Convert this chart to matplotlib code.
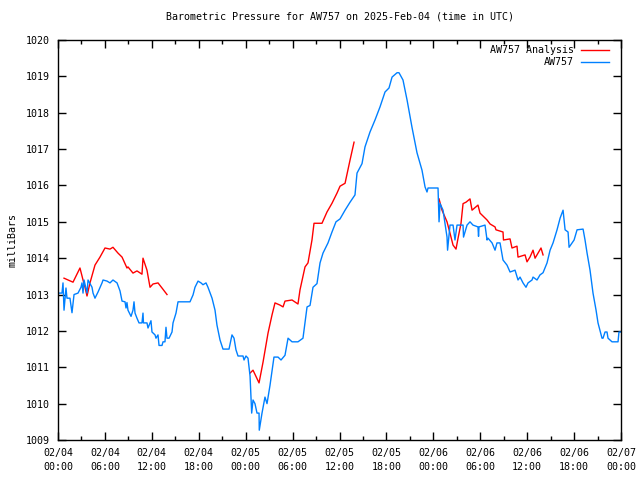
import matplotlib
matplotlib.use("Agg")
import matplotlib.pyplot as plt
import numpy as np

# ─── Data (hours since 2025-02-04 00:00 UTC, pressure in mbar) ───────────────
obs_hours = [
    0.0, 0.51, 0.58, 0.64, 0.77, 1.02, 1.15, 1.53, 1.79, 2.05, 2.56, 2.94, 3.07,
    3.20, 3.33, 3.71, 3.84, 4.09, 4.35, 4.48, 4.73, 5.12, 5.63, 5.76, 6.27, 6.65,
    7.03, 7.55, 7.93, 8.19, 8.57, 8.70, 8.82, 8.95, 9.34, 9.59, 9.72, 9.85, 10.10,
    10.36, 10.74, 10.87, 10.93, 11.38, 11.51, 11.89, 12.02, 12.41, 12.53, 12.79,
    12.92, 13.30, 13.43, 13.68, 13.81, 13.94, 14.20, 14.58, 14.71, 15.09, 15.35,
    16.88, 17.27, 17.52, 17.91, 18.29, 18.54, 18.93, 19.18, 19.70, 20.08, 20.33,
    20.72, 21.10, 21.87, 22.25, 22.51, 22.76, 23.02, 23.66, 23.79, 24.04, 24.30,
    24.56, 24.77, 24.94, 25.19, 25.45, 25.71, 25.74, 26.09, 26.47, 26.73, 27.11,
    27.62, 28.14, 28.52, 29.03, 29.42, 29.93, 30.69, 31.33, 31.85, 32.23, 32.61,
    33.12, 33.51, 33.89, 34.53, 35.04, 35.55, 36.07, 36.71, 37.35, 37.98, 38.24,
    38.88, 39.26, 39.90, 40.54, 41.18, 41.82, 42.33, 42.72, 43.36, 43.61, 44.12,
    44.64, 45.27, 45.91, 46.55, 46.94, 47.19, 47.32, 48.60, 48.73, 48.86, 49.24,
    49.75, 49.82, 50.13, 50.52, 50.77, 51.03, 51.80, 51.86, 52.31, 52.69, 53.07,
    53.71, 53.78, 53.84, 54.61, 54.87, 54.99, 55.51, 55.89, 56.14, 56.53, 56.91,
    57.42, 57.81, 58.45, 58.83, 59.09, 59.47, 59.85, 60.11, 60.62, 60.75, 61.26,
    61.64, 62.03, 62.54, 62.93, 63.31, 63.82, 64.21, 64.59, 64.85, 65.23, 65.36,
    65.74, 66.00, 66.38, 67.15, 67.40, 67.66, 68.04, 68.42, 68.81, 69.06, 69.57,
    69.70, 69.96, 70.21, 70.34, 70.85, 71.62, 71.74, 72.0,
]
obs_mbar = [
    1013.04, 1013.04, 1013.20, 1013.32, 1012.57, 1013.18, 1012.90, 1012.90,
    1012.50, 1013.00, 1013.04, 1013.20, 1013.32, 1013.04, 1013.40, 1013.04,
    1013.40, 1013.30, 1013.20, 1013.04, 1012.90, 1013.07, 1013.32, 1013.40,
    1013.37, 1013.32, 1013.40, 1013.32, 1013.10, 1012.82, 1012.80, 1012.63,
    1012.78, 1012.57, 1012.40, 1012.57, 1012.80, 1012.49, 1012.35, 1012.22,
    1012.22, 1012.49, 1012.22, 1012.22, 1012.08, 1012.28, 1011.97, 1011.89,
    1011.80, 1011.89, 1011.60, 1011.60, 1011.70, 1011.70, 1012.10, 1011.80,
    1011.80, 1011.97, 1012.22, 1012.49, 1012.80, 1012.80, 1012.99, 1013.20,
    1013.37, 1013.32, 1013.27, 1013.32, 1013.20, 1012.90, 1012.57, 1012.16,
    1011.75, 1011.50, 1011.50, 1011.89, 1011.80, 1011.48, 1011.31, 1011.31,
    1011.20, 1011.31, 1011.25, 1010.76, 1009.74, 1010.10, 1010.00, 1009.74,
    1009.74, 1009.27, 1009.74, 1010.18, 1010.00, 1010.50, 1011.28, 1011.28,
    1011.20, 1011.33, 1011.80, 1011.70, 1011.70, 1011.80, 1012.66, 1012.70,
    1013.20, 1013.30, 1013.87, 1014.14, 1014.42, 1014.72, 1015.00, 1015.08,
    1015.32, 1015.54, 1015.74, 1016.34, 1016.60, 1017.06, 1017.47, 1017.80,
    1018.16, 1018.57, 1018.68, 1018.98, 1019.10, 1019.10, 1018.90, 1018.35,
    1017.60, 1016.90, 1016.42, 1015.96, 1015.82, 1015.93, 1015.93, 1015.00,
    1015.50, 1015.32, 1014.58, 1014.22, 1014.91, 1014.91, 1014.50, 1014.91,
    1014.91, 1014.58, 1014.91, 1015.00, 1014.91, 1014.86, 1014.60, 1014.86,
    1014.91, 1014.50, 1014.55, 1014.42, 1014.22, 1014.42, 1014.42, 1013.95,
    1013.81, 1013.62, 1013.67, 1013.40, 1013.48, 1013.32, 1013.20, 1013.32,
    1013.40, 1013.48, 1013.40, 1013.54, 1013.60, 1013.87, 1014.22, 1014.42,
    1014.78, 1015.10, 1015.32, 1014.78, 1014.72, 1014.30, 1014.42, 1014.50,
    1014.78, 1014.80, 1014.50, 1014.14, 1013.67, 1013.04, 1012.57, 1012.22,
    1011.80, 1011.80, 1011.97, 1011.97, 1011.80, 1011.70, 1011.70, 1011.97,
    1011.97,
]

# Analysis comes in three separate runs
ana1_hours = [0.77, 1.92, 2.81, 3.20, 3.45, 3.71, 4.09, 4.73, 5.37, 6.01, 6.65,
              7.03, 7.67, 8.19, 8.82, 8.95, 9.59, 10.10, 10.74, 10.87, 11.38,
              11.77, 12.15, 12.79, 13.30, 13.94]
ana1_mbar = [1013.45, 1013.34, 1013.73, 1013.40, 1013.20, 1012.96, 1013.32,
             1013.81, 1014.03, 1014.28, 1014.25, 1014.30, 1014.14, 1014.03,
             1013.73, 1013.76, 1013.59, 1013.65, 1013.56, 1014.00, 1013.67,
             1013.20, 1013.29, 1013.32, 1013.18, 1013.00]

ana2_hours = [24.56, 24.94, 25.71, 26.22, 26.86, 27.37, 27.75, 28.39, 28.78,
              29.03, 29.93, 30.69, 30.95, 31.59, 31.97, 32.48, 32.74, 33.76,
              34.40, 35.04, 35.68, 36.07, 36.71, 37.35, 37.86]
ana2_mbar = [1010.84, 1010.92, 1010.57, 1011.14, 1011.94, 1012.44, 1012.77,
             1012.71, 1012.66, 1012.82, 1012.85, 1012.74, 1013.13, 1013.76,
             1013.87, 1014.50, 1014.96, 1014.96, 1015.27, 1015.51, 1015.79,
             1015.98, 1016.06, 1016.70, 1017.19]

ana3_hours = [48.73, 49.11, 49.75, 50.13, 50.52, 50.90, 51.16, 51.54, 51.80,
              52.18, 52.69, 52.95, 53.71, 53.97, 54.87, 55.26, 55.89, 56.01,
              56.91, 56.97, 57.81, 58.06, 58.70, 58.83, 59.73, 59.98, 60.36,
              60.75, 61.01, 61.77, 62.03]
ana3_mbar = [1015.63, 1015.32, 1015.00, 1014.69, 1014.36, 1014.25, 1014.55,
             1014.96, 1015.50, 1015.54, 1015.63, 1015.32, 1015.46, 1015.24,
             1015.05, 1014.94, 1014.86, 1014.78, 1014.72, 1014.50, 1014.53,
             1014.28, 1014.33, 1014.03, 1014.09, 1013.90, 1014.03, 1014.22,
             1014.00, 1014.28, 1014.09]

xtick_hours = list(range(0, 73, 6))
xtick_labels = ["02/04\n00:00", "02/04\n06:00", "02/04\n12:00", "02/04\n18:00",
                "02/05\n00:00", "02/05\n06:00", "02/05\n12:00", "02/05\n18:00",
                "02/06\n00:00", "02/06\n06:00", "02/06\n12:00", "02/06\n18:00",
                "02/07\n00:00"]
ytick_vals = list(range(1009, 1021))

legend_labels = ["AW757 Analysis", "AW757"]

# ─── Plot ────────────────────────────────────────────────────────────────────
FS = 7.2
plt.rcParams["font.family"] = "DejaVu Sans Mono"
plt.rcParams["font.size"] = FS

RED = "#ff0000"
BLUE = "#0080ff"

fig = plt.figure(figsize=(6.4, 4.8), dpi=100)
ax = fig.add_axes([58 / 640, 40 / 480, 563 / 640, 400 / 480])

ax.plot(ana1_hours, ana1_mbar, color=RED, lw=1.0)
ax.plot(ana2_hours, ana2_mbar, color=RED, lw=1.0)
ax.plot(ana3_hours, ana3_mbar, color=RED, lw=1.0)
ax.plot(obs_hours, obs_mbar, color=BLUE, lw=1.0)

ax.set_xlim(0, 72)
ax.set_ylim(1009, 1020)
ax.set_xticks(xtick_hours)
ax.set_xticklabels(xtick_labels, linespacing=1.5)
ax.set_xticks(np.arange(3, 72, 6), minor=True)
ax.set_yticks(ytick_vals)
ax.set_yticklabels([str(v) for v in ytick_vals])

ax.tick_params(which="both", direction="in", top=True, right=True, width=1.0)
ax.tick_params(which="major", length=6, pad=6)
ax.tick_params(which="minor", length=3)
for sp in ax.spines.values():
    sp.set_linewidth(1.0)

ax.set_ylabel("milliBars", labelpad=6)
ax.set_title("Barometric Pressure for AW757 on 2025-Feb-04 (time in UTC)",
             fontsize=FS, pad=15)

# gnuplot-style key: right-aligned text, line sample on the right
key_y = [0.975, 0.945]
for label, color, yk in zip(legend_labels, [RED, BLUE], key_y):
    ax.text(0.9165, yk, label, transform=ax.transAxes, ha="right", va="center")
    ax.plot([0.929, 0.979], [yk, yk], transform=ax.transAxes, color=color, lw=1.0)

fig.savefig("out.png", dpi=100)
